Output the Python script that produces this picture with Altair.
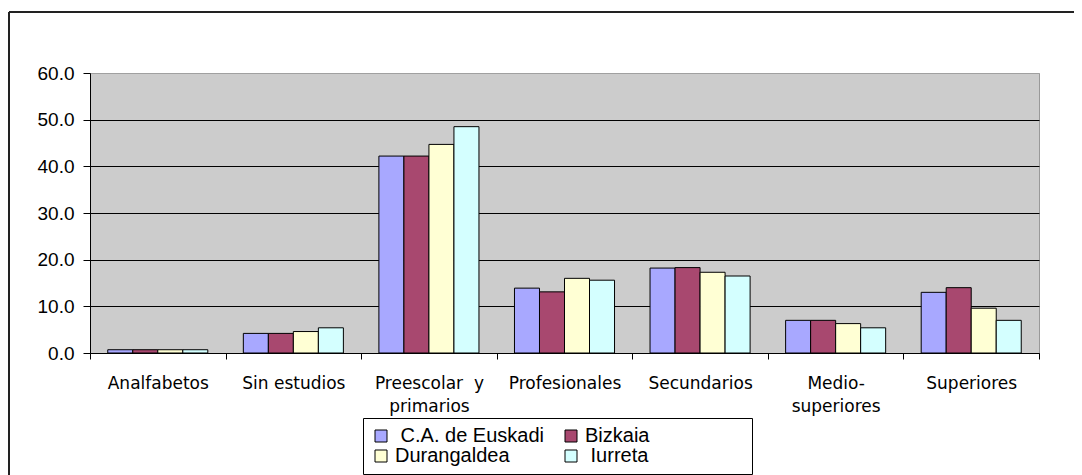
import altair as alt
import pandas as pd

categories = ["Analfabetos", "Sin estudios", "Preescolar y primarios", "Profesionales",
              "Secundarios", "Medio-superiores", "Superiores"]
series = ["C.A. de Euskadi", "Bizkaia", "Durangaldea", "Iurreta"]
colors = ["#A8A8FF", "#A8486F", "#FFFFD4", "#D4FFFF"]

ca_euskadi = [0.7, 4.2, 42.2, 13.9, 18.2, 7.0, 13.0]
bizkaia = [0.7, 4.2, 42.2, 13.1, 18.3, 7.0, 14.0]
durangaldea = [0.7, 4.6, 44.7, 16.0, 17.3, 6.3, 9.6]
iurreta = [0.7, 5.4, 48.5, 15.6, 16.5, 5.4, 7.0]

y_ticks = [0, 10, 20, 30, 40, 50, 60]

rows = []
for s, vals in zip(series, [ca_euskadi, bizkaia, durangaldea, iurreta]):
    for c, v in zip(categories, vals):
        rows.append({"categoria": c, "serie": s, "valor": v})
df = pd.DataFrame(rows)

NB = "\u00a0"
ZW = "\u200b"
label_expr = (
    "datum.label == 'Preescolar y primarios' ? ['Preescolar" + NB + NB + "y', 'primarios'] : "
    "datum.label == 'Medio-superiores' ? ['Medio-', 'superiores'] : datum.label"
)
legend_expr = (
    "datum.label == 'C.A. de Euskadi' ? '" + ZW + NB + "C.A. de Euskadi' : "
    "datum.label == 'Iurreta' ? '" + ZW + NB + "Iurreta' : "
    "datum.label == 'Bizkaia' ? 'Bizkaia" + NB * 17 + ZW + "' : datum.label"
)

bars = alt.Chart(df).mark_bar(stroke="black", strokeWidth=1).encode(
    x=alt.X("categoria:N", sort=categories, title=None,
            scale=alt.Scale(paddingInner=0, paddingOuter=0),
            axis=alt.Axis(labelAngle=0, labelFont="DejaVu Sans", labelFontSize=17,
                          labelColor="black", labelExpr=label_expr, labelLineHeight=23,
                          labelPadding=16, tickSize=6, tickColor="black", tickBand="extent",
                          domainColor="black", labelOverlap=False, labelBound=False,
                          labelLimit=0, grid=False)),
    xOffset=alt.XOffset("serie:N", sort=series,
                        scale=alt.Scale(paddingOuter=0.71, paddingInner=0)),
    y=alt.Y("valor:Q", title=None,
            scale=alt.Scale(domain=[0, 60], nice=False),
            axis=alt.Axis(values=y_ticks, format=".1f", labelFont="Liberation Sans",
                          labelFontSize=19, labelColor="black", tickSize=7, tickColor="black",
                          labelPadding=9, domainColor="black", grid=True,
                          gridColor=alt.condition("datum.value == 60", alt.value("#A0A0A0"),
                                                  alt.value("black")),
                          gridWidth=1)),
    color=alt.Color("serie:N", sort=series,
                    scale=alt.Scale(domain=series, range=colors),
                    legend=alt.Legend(title=None, orient="none", legendX=273, legendY=345,
                                      direction="horizontal",
                                      columns=2, columnPadding=17, rowPadding=0,
                                      padding=8, strokeColor="black", fillColor="white",
                                      symbolType="square", symbolSize=144,
                                      symbolStrokeColor="black", symbolStrokeWidth=1,
                                      labelFont="Liberation Sans", labelFontSize=20,
                                      labelColor="black", labelOffset=4, labelLimit=0,
                                      labelExpr=legend_expr)),
)

frame_data = alt.Data(values=[{}])
frame_top = alt.Chart(frame_data).mark_rule(color="#222222", strokeWidth=2).encode(
    x=alt.value(-81), x2=alt.value(984), y=alt.value(-61))
frame_left = alt.Chart(frame_data).mark_rule(color="#222222", strokeWidth=2).encode(
    x=alt.value(-81), y=alt.value(-61), y2=alt.value(402))

chart = alt.layer(bars, frame_top, frame_left).properties(
    width=949, height=280,
    autosize=alt.AutoSizeParams(type="none"),
    padding={"left": 82, "top": 65, "right": 35, "bottom": 122},
).configure_view(fill="#CCCCCC", stroke="#999999", strokeWidth=1)

chart.save("out.html", embed_options={"renderer": "svg", "actions": False})
